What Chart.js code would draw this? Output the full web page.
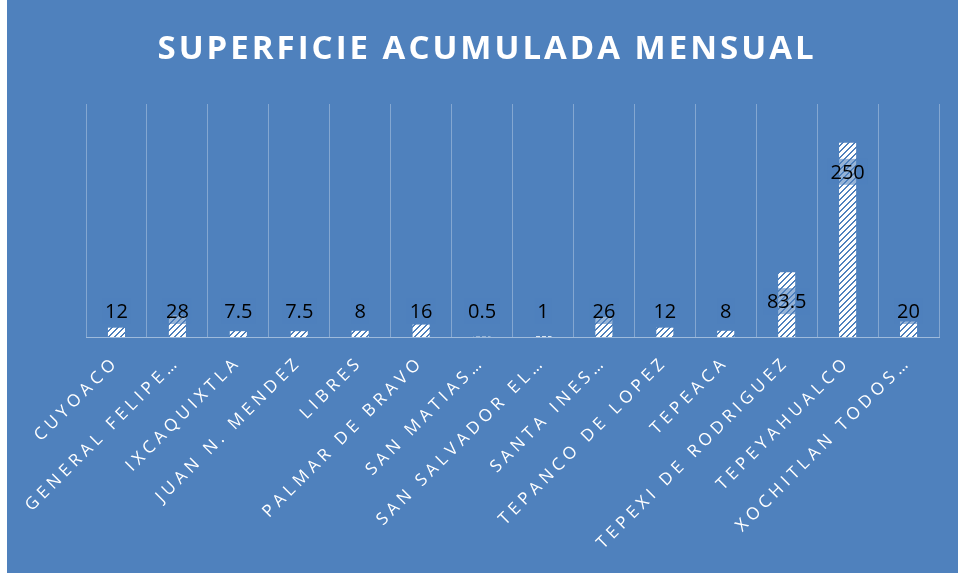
<!DOCTYPE html>
<html>
<head>
<meta charset="utf-8">
<script src="https://cdn.jsdelivr.net/npm/chart.js@4"></script>
<style>
  html, body { margin: 0; padding: 0; background: #fff; }
  #box { position: absolute; left: 7px; top: 0; width: 951px; height: 573px; background: #4f81bd; }
</style>
</head>
<body>
<div id="box"><canvas id="myChart" width="951" height="573"></canvas></div>
<script>
const titleText = "SUPERFICIE ACUMULADA MENSUAL";

const municipios = [
  "CUYOACO", "GENERAL FELIPE…", "IXCAQUIXTLA", "JUAN N. MENDEZ", "LIBRES",
  "PALMAR DE BRAVO", "SAN MATIAS…", "SAN SALVADOR EL…", "SANTA INES…",
  "TEPANCO DE LOPEZ", "TEPEACA", "TEPEXI DE RODRIGUEZ", "TEPEYAHUALCO",
  "XOCHITLAN TODOS…",
];
const superficie = [12, 28, 7.5, 7.5, 8, 16, 0.5, 1, 26, 12, 8, 83.5, 250, 20];

const blue = "#4f81bd";

const makeHatch = () => {
  const c = document.createElement("canvas");
  c.width = 6;
  c.height = 6;
  const g = c.getContext("2d");
  g.fillStyle = "#ffffff";
  g.fillRect(0, 0, 6, 6);
  g.fillStyle = blue;
  for (let i = 0; i < 6; i++) {
    g.fillRect((i + 6) % 6, 5 - i, 2, 1);
    if (i === 5) g.fillRect(0, 0, 1, 1);
  }
  return g.createPattern(c, "repeat");
};

// letter spacing + title drawn by hand
const spacing = {
  id: "spacing",
  beforeLayout(chart) {
    chart.ctx.letterSpacing = "4.5px";
  },
  beforeDraw(chart) {
    chart.ctx.letterSpacing = "4.5px";
  },
  afterDraw(chart) {
    const ctx = chart.ctx;
    ctx.save();
    ctx.letterSpacing = "3px";
    ctx.fillStyle = "#ffffff";
    ctx.font = "bold 33px 'Open Sans'";
    ctx.textAlign = "center";
    ctx.textBaseline = "alphabetic";
    ctx.fillText(titleText, 480, 59);
    ctx.restore();
  },
};

// value labels with a see-through box
const valueLabels = {
  id: "valueLabels",
  afterDatasetsDraw(chart) {
    const ctx = chart.ctx;
    const meta = chart.getDatasetMeta(0);
    const base = chart.scales.y.getPixelForValue(0);
    ctx.save();
    ctx.letterSpacing = "0px";
    ctx.font = "20px 'Open Sans'";
    ctx.textAlign = "center";
    ctx.textBaseline = "middle";
    meta.data.forEach((bar, i) => {
      const txt = String(superficie[i]);
      const y = Math.min(bar.y + 29, base - 26);
      const w = ctx.measureText(txt).width + 6;
      ctx.fillStyle = "rgba(79,129,189,0.6)";
      ctx.fillRect(bar.x - w / 2, y - 13, w, 26);
      ctx.fillStyle = "#000000";
      ctx.fillText(txt, bar.x, y + 1);
    });
    ctx.restore();
  },
};

const ctx = document.getElementById("myChart");

const myChart = new Chart(ctx, {
  type: "bar",
  data: {
    labels: municipios,
    datasets: [
      {
        label: "Superficie",
        data: superficie,
        backgroundColor: makeHatch(),
        borderWidth: 0,
        barPercentage: 0.28,
        categoryPercentage: 1,
      },
    ],
  },
  options: {
    responsive: false,
    animation: false,
    layout: { padding: { left: 79, right: 19, top: 104, bottom: 0 } },
    plugins: {
      legend: { display: false },
      title: { display: false },
      tooltip: { enabled: false },
    },
    scales: {
      x: {
        afterFit(scale) {
          scale.height = 236;
        },
        grid: {
          display: true,
          offset: true,
          color: "rgba(255,255,255,0.3)",
          lineWidth: 1,
          drawTicks: false,
        },
        border: { display: true, color: "rgba(255,255,255,0.45)", width: 1 },
        ticks: {
          color: "#ffffff",
          font: { family: "'Open Sans'", size: 17 },
          minRotation: 45,
          maxRotation: 45,
          autoSkip: false,
          padding: 15,
        },
      },
      y: {
        display: false,
        min: 0,
        max: 300,
      },
    },
  },
  plugins: [spacing, valueLabels],
});
</script>
</body>
</html>
